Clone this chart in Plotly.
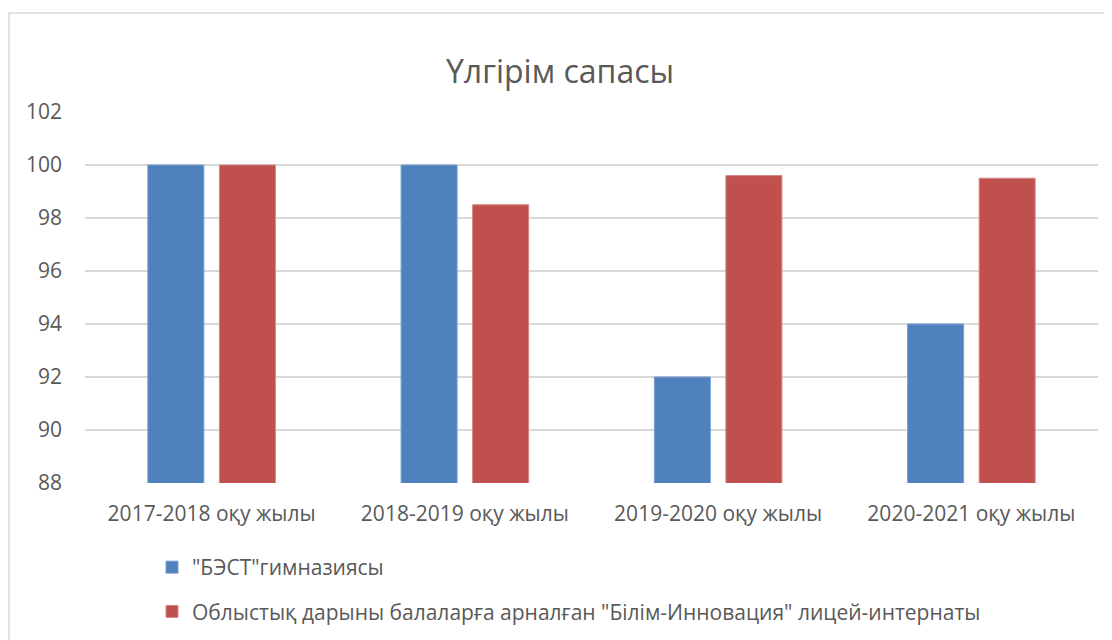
import plotly.graph_objects as go

# ── Data ──────────────────────────────────────────────────────────────────────
years = ["2017-2018 оқу жылы", "2018-2019 оқу жылы", "2019-2020 оқу жылы", "2020-2021 оқу жылы"]
best_gym = [100, 100, 92, 94]
lyceum = [100, 98.5, 99.6, 99.5]
y_ticks = [88, 90, 92, 94, 96, 98, 100, 102]

# ── Style ─────────────────────────────────────────────────────────────────────
BLUE = "#4F81BD"
RED = "#C0504D"
GREY_TXT = "#595959"
GRID = "#D9D9D9"
FONT = "Open Sans, sans-serif"

# page body has an 8px margin, so the figure is sized/offset for that
W, H = 1104, 632
L, R, T, B = 77, 14, 104, 157

fig = go.Figure()
fig.add_trace(go.Bar(
    x=years, y=best_gym, name='"БЭСТ"гимназиясы',
    marker=dict(color=BLUE, line=dict(color="#7A9FCF", width=1)),
    legendgroup="a",
))
fig.add_trace(go.Bar(
    x=years, y=lyceum,
    name='Облыстық дарыны балаларға арналған "Білім-Инновация" лицей-интернаты',
    marker=dict(color=RED, line=dict(color="#D58785", width=1)),
    legendgroup="b",
))

pw = W - L - R
ph = H - T - B
# outer chart border (top + left visible in the reference)
fig.add_shape(
    type="rect", xref="paper", yref="paper",
    x0=(1 - L) / pw, x1=(W + 10 - L) / pw,
    y0=-(H + 10 - T - ph) / ph, y1=1 + (T - 5) / ph,
    line=dict(color=GRID, width=1.5), fillcolor="rgba(0,0,0,0)", layer="below",
)

fig.update_layout(
    width=W, height=H,
    margin=dict(l=L, r=R, t=T, b=B, autoexpand=False),
    paper_bgcolor="white", plot_bgcolor="white",
    font=dict(family=FONT, color=GREY_TXT),
    title=dict(text="Үлгірім сапасы", x=0.5, xanchor="center",
               y=1 - 64 / H, yanchor="middle",
               font=dict(size=32, color=GREY_TXT, family=FONT)),
    barmode="group", bargap=0.435, bargroupgap=0.217,
    xaxis=dict(showgrid=False, showline=False, ticks="",
               tickfont=dict(size=21, color=GREY_TXT), ticklabelstandoff=16),
    yaxis=dict(range=[88, 102], tickvals=y_ticks, showgrid=True, gridcolor=GRID,
               gridwidth=1.5, zeroline=False, showline=False, ticks="",
               tickfont=dict(size=21, color=GREY_TXT), ticklabelstandoff=22),
    legend=dict(orientation="v", x=(144 - L) / pw, xanchor="left",
                y=-(539 - T - ph) / ph, yanchor="top",
                font=dict(size=21, color=GREY_TXT), tracegroupgap=14,
                itemwidth=30, bgcolor="rgba(0,0,0,0)"),
    showlegend=True,
)

fig.write_html("out.html")
